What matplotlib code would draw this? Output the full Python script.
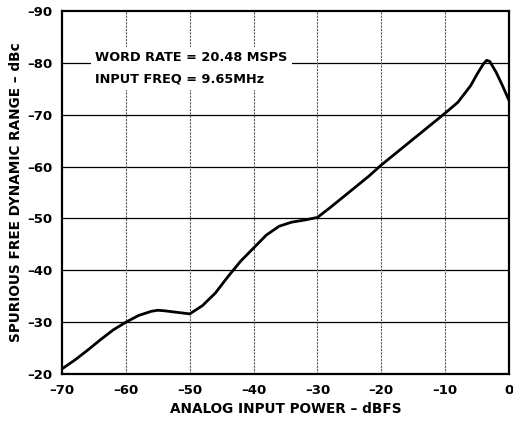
import matplotlib
matplotlib.use('Agg')
import matplotlib.pyplot as plt

# SFDR vs analog input power
power = [-70, -68, -66, -64, -62, -60, -58, -56, -55, -54, -52, -50, -48, -46, -44, -42,
         -40, -38, -36, -34, -32, -30, -28, -26, -24, -22, -20, -18, -16, -14, -12,
         -10, -8, -6, -5, -4, -3.5, -3, -2, -1, 0]
sfdr = [-21, -22.7, -24.6, -26.6, -28.5, -30, -31.3, -32.1, -32.3, -32.2, -31.9, -31.6, -33.2, -35.6, -38.8, -41.8,
        -44.3, -46.8, -48.5, -49.3, -49.7, -50.2, -52.1, -54.1, -56.1, -58.1, -60.3, -62.3, -64.3, -66.3, -68.3,
        -70.3, -72.4, -75.6, -77.8, -79.8, -80.5, -80.3, -78.2, -75.6, -72.8]

xticks = [-70, -60, -50, -40, -30, -20, -10, 0]
yticks = [-20, -30, -40, -50, -60, -70, -80, -90]

plt.rcParams['font.family'] = ['DejaVu Sans']
plt.rcParams['font.weight'] = 'bold'

fig = plt.figure(figsize=(5.13, 4.26), dpi=100)
ax = fig.add_axes([0.121, 0.122, 0.871, 0.852])

ax.set_xlim(-70, 0)
ax.set_ylim(-20, -90)

for y in yticks[1:-1]:
    ax.axhline(y, color='black', lw=0.9, zorder=1)
for x in xticks[1:-1]:
    ax.axvline(x, color='0.35', lw=0.8, ls=(0, (2, 1)), zorder=1)

ax.plot(power, sfdr, color='black', lw=2.0, zorder=3)

ax.text(-64.8, -78.9, 'WORD RATE = 20.48 MSPS\nINPUT FREQ = 9.65MHz',
        fontsize=9.3, fontweight='bold', va='center', ha='left', linespacing=1.85,
        bbox=dict(facecolor='white', edgecolor='none', pad=3), zorder=2)

ax.set_xticks(xticks)
ax.set_yticks(yticks)
ax.set_xticklabels([str(t).replace('-', '\u2013') for t in xticks])
ax.set_yticklabels([str(t).replace('-', '\u2013') for t in yticks])
ax.tick_params(length=0, labelsize=9.5, pad=7)
for lbl in ax.get_xticklabels() + ax.get_yticklabels():
    lbl.set_fontweight('bold')

for s in ax.spines.values():
    s.set_linewidth(1.6)

ax.set_xlabel('ANALOG INPUT POWER \u2013 dBFS', fontsize=9.8, fontweight='bold', labelpad=4)
ax.set_ylabel('SPURIOUS FREE DYNAMIC RANGE \u2013 dBc', fontsize=9.8, fontweight='bold', labelpad=3)

plt.savefig('out.png', dpi=100)
